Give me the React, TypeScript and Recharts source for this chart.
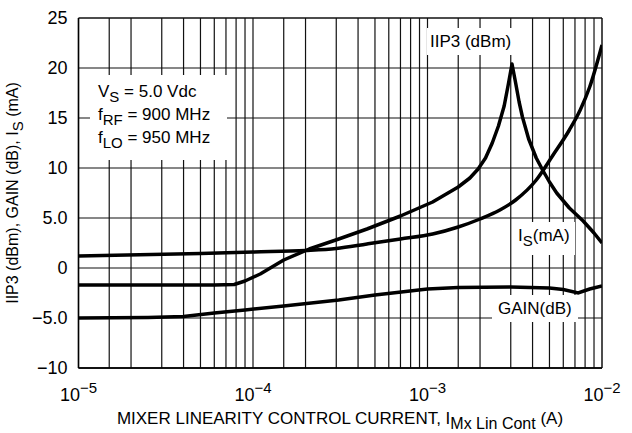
import React from "react";
import { LineChart, Line, XAxis, YAxis, ReferenceLine } from "recharts";

const FONT = "'Liberation Sans', Arial, Helvetica, sans-serif";

const xTicks = [1e-5, 1e-4, 1e-3, 1e-2];
const xTickExps = ["−5", "−4", "−3", "−2"];
const yTicks = [-10, -5, 0, 5, 10, 15, 20, 25];
const yTickLabels = ["−10", "−5.0", "0", "5.0", "10", "15", "20", "25"];
const gridMantissas = [1, 1.5, 2, 3, 4, 5, 6, 7, 8, 9];
const gridDecades = [1e-5, 1e-4, 1e-3];

const iip3X = [1e-5, 3e-5, 6e-5, 7.8e-5, 9e-5, 1.1e-4, 1.5e-4, 2.1e-4, 3.1e-4, 4.5e-4, 7e-4, 1.07e-3, 1.5e-3, 1.75e-3, 1.95e-3, 2.15e-3, 2.35e-3, 2.55e-3, 2.75e-3, 2.9e-3, 3.05e-3, 3.2e-3, 3.35e-3, 3.5e-3, 3.8e-3, 4.2e-3, 4.6e-3, 5.0e-3, 5.5e-3, 6.5e-3, 7.8e-3, 9e-3, 1e-2];
const iip3Y = [-1.7, -1.7, -1.7, -1.65, -1.3, -0.6, 0.8, 1.9, 2.9, 3.9, 5.2, 6.6, 8.1, 9.0, 9.9, 11.0, 12.5, 14.2, 16.2, 18.3, 20.4, 18.5, 16.6, 15.1, 12.9, 11.0, 9.7, 8.6, 7.5, 6.0, 4.7, 3.5, 2.5];

const isX = [1e-5, 5e-5, 1e-4, 2e-4, 3e-4, 4.5e-4, 7e-4, 1.07e-3, 1.5e-3, 2e-3, 2.6e-3, 3.2e-3, 4.2e-3, 5.2e-3, 6.5e-3, 7.5e-3, 8.5e-3, 1e-2];
const isY = [1.2, 1.45, 1.6, 1.75, 1.95, 2.4, 2.9, 3.4, 4.1, 4.9, 5.8, 6.8, 8.8, 11.2, 13.8, 15.8, 18.1, 22.3];

const gainX = [1e-5, 2.5e-5, 4e-5, 6e-5, 9e-5, 1.5e-4, 3.1e-4, 5e-4, 1e-3, 1.5e-3, 3e-3, 5e-3, 6e-3, 7.3e-3, 8.5e-3, 1e-2];
const gainY = [-5.0, -4.95, -4.85, -4.5, -4.2, -3.8, -3.2, -2.7, -2.1, -1.95, -1.9, -2.0, -2.15, -2.5, -2.1, -1.8];

const toPoints = (xs: number[], ys: number[]) => xs.map((x, i) => ({ x, y: ys[i] }));
const iip3Data = toPoints(iip3X, iip3Y);
const isData = toPoints(isX, isY);
const gainData = toPoints(gainX, gainY);

const verticalGrid: number[] = [];
gridDecades.forEach((d) => gridMantissas.forEach((m) => verticalGrid.push(m * d)));
verticalGrid.push(1e-2);

const XTick = (props: any) => {
  const { x, y, payload } = props;
  let idx = 0;
  xTicks.forEach((t, i) => {
    if (Math.abs(t - payload.value) / t < 1e-6) idx = i;
  });
  return (
    <text x={x} y={y + 25} textAnchor="middle" fontSize={18} fontFamily={FONT} fill="#000">
      10
      <tspan dy={-8} fontSize={15}>{xTickExps[idx]}</tspan>
    </text>
  );
};

const YTick = (props: any) => {
  const { x, y, payload } = props;
  const idx = yTicks.indexOf(payload.value);
  return (
    <text x={x - 3} y={y + 6} textAnchor="end" fontSize={18} fontFamily={FONT} fill="#000">
      {yTickLabels[idx]}
    </text>
  );
};

const boxStyle: React.CSSProperties = {
  position: "absolute",
  background: "#fff",
  fontFamily: FONT,
  fontSize: 17,
  color: "#000",
  lineHeight: "23px",
  whiteSpace: "nowrap",
};

const sub: React.CSSProperties = { fontSize: 15, verticalAlign: "-5px", lineHeight: 0 };

export default function App() {
  return (
    <div style={{ position: "absolute", left: 0, top: 0, width: 632, height: 433, background: "#fff" }}>
      <LineChart width={632} height={433} margin={{ top: 18, right: 30, bottom: 0, left: 0 }}>
        <XAxis
          dataKey="x"
          type="number"
          scale="log"
          domain={[1e-5, 1e-2]}
          ticks={xTicks}
          tick={<XTick />}
          tickLine={false}
          axisLine={{ stroke: "#000", strokeWidth: 1.5 }}
          height={65}
          allowDataOverflow
        />
        <YAxis
          type="number"
          domain={[-10, 25]}
          ticks={yTicks}
          tick={<YTick />}
          tickLine={false}
          axisLine={{ stroke: "#000", strokeWidth: 1.5 }}
          width={78.5}
          allowDataOverflow
        />
        {verticalGrid.map((v) => (
          <ReferenceLine key={"v" + v} x={v} stroke="#111" strokeWidth={v === 1e-2 ? 1.5 : 1.2} ifOverflow="extendDomain" />
        ))}
        {yTicks.map((v) => (
          <ReferenceLine key={"h" + v} y={v} stroke="#111" strokeWidth={v === 25 || v === -10 ? 1.5 : 1.2} />
        ))}
        <Line data={gainData} dataKey="y" type="linear" stroke="#000" strokeWidth={3.5} dot={false} isAnimationActive={false} />
        <Line data={isData} dataKey="y" type="monotone" stroke="#000" strokeWidth={3.5} dot={false} isAnimationActive={false} />
        <Line data={iip3Data} dataKey="y" type="linear" stroke="#000" strokeWidth={3.5} dot={false} isAnimationActive={false} strokeLinejoin="round" />
      </LineChart>

      <div style={{ ...boxStyle, left: 90, top: 75, width: 137, height: 85, paddingLeft: 8, paddingTop: 5, boxSizing: "border-box" }}>
        <div>V<span style={sub}>S</span> = 5.0 Vdc</div>
        <div>f<span style={sub}>RF</span> = 900 MHz</div>
        <div>f<span style={sub}>LO</span> = 950 MHz</div>
      </div>
      <div style={{ ...boxStyle, left: 427, top: 28, padding: "2px 3px" }}>IIP3 (dBm)</div>
      <div style={{ ...boxStyle, left: 513, top: 222, padding: "2px 5px 8px 5px" }}>
        I<span style={sub}>S</span>(mA)
      </div>
      <div style={{ ...boxStyle, left: 492, top: 295, padding: "2px 6px 2px 6px" }}>GAIN(dB)</div>

      <div
        style={{
          position: "absolute",
          left: 13,
          top: 193,
          transform: "translate(-50%, -50%) rotate(-90deg)",
          fontFamily: FONT,
          fontSize: 16,
          whiteSpace: "nowrap",
          color: "#000",
        }}
      >
        IIP3 (dBm), GAIN (dB), I<span style={sub}>S</span> (mA)
      </div>
      <div
        style={{
          position: "absolute",
          left: 340,
          top: 421,
          transform: "translate(-50%, -50%)",
          fontFamily: FONT,
          fontSize: 17,
          whiteSpace: "nowrap",
          color: "#000",
        }}
      >
        MIXER LINEARITY CONTROL CURRENT, I<span style={{ fontSize: 16, verticalAlign: "-5px" }}>Mx Lin Cont</span> (A)
      </div>
    </div>
  );
}
